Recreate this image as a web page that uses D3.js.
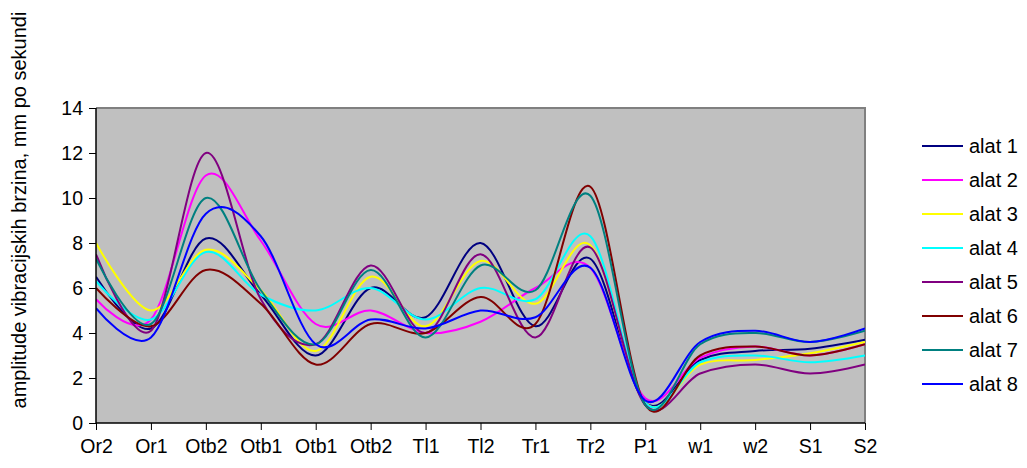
<!DOCTYPE html>
<html><head><meta charset="utf-8">
<script src="https://cdn.jsdelivr.net/npm/d3@7/dist/d3.min.js"></script>
<style>body{margin:0;background:#fff}svg{display:block;font-family:"Liberation Sans",Arial,sans-serif}</style>
</head><body><svg id="c" width="1027" height="468"></svg>
<script>
const categories = ["Or2","Or1","Otb2","Otb1","Otb1","Otb2","Tl1","Tl2","Tr1","Tr2","P1","w1","w2","S1","S2"];
const yTicks = [0,2,4,6,8,10,12,14];
const seriesNames = ["alat 1","alat 2","alat 3","alat 4","alat 5","alat 6","alat 7","alat 8"];
const seriesColors = ["#000080","#FF00FF","#FFFF00","#00FFFF","#800080","#800000","#008080","#0000FF"];
const alat1 = [6.5,4.2,8.2,5.7,3.0,6.0,4.7,8.0,4.3,7.3,0.9,2.8,3.2,3.3,3.7];
const alat2 = [5.5,4.6,11.0,8.1,4.4,5.0,4.0,4.5,6.0,6.9,1.1,2.9,3.4,3.0,3.5];
const alat3 = [8.0,5.0,7.7,5.9,3.2,6.5,4.3,7.2,5.3,7.9,0.9,2.6,2.8,3.1,3.6];
const alat4 = [6.3,4.6,7.6,5.7,5.0,6.0,4.6,6.0,5.5,8.3,0.9,2.7,3.0,2.7,3.0];
const alat5 = [7.5,4.1,12.0,5.5,3.5,7.0,4.0,7.5,3.8,7.8,0.8,2.2,2.6,2.2,2.6];
const alat6 = [6.0,4.3,6.8,5.3,2.6,4.4,4.0,5.6,4.4,10.5,0.8,3.0,3.4,3.0,3.5];
const alat7 = [7.3,4.4,10.0,5.9,3.5,6.8,3.8,7.0,5.9,10.1,0.8,3.5,4.0,3.6,4.1];
const alat8 = [5.1,3.8,9.3,8.3,3.5,4.6,4.2,5.0,4.7,6.9,1.0,3.6,4.1,3.6,4.2];
const seriesValues = [alat1,alat2,alat3,alat4,alat5,alat6,alat7,alat8];

const svg = d3.select("#c");
const L = 96, R = 865, T = 108, B = 423;
const x = d3.scalePoint().domain(d3.range(categories.length)).range([L, R]);
const y = d3.scaleLinear().domain([0,14]).range([B, T]);

svg.append("rect").attr("x",L).attr("y",T).attr("width",R-L).attr("height",B-T).attr("fill","#C0C0C0");
svg.append("path").attr("d",`M${L},${T}H${R}V${B}`).attr("fill","none").attr("stroke","#808080").attr("stroke-width",2);

svg.append("clipPath").attr("id","pc").append("rect").attr("x",L).attr("y",T-5).attr("width",R-L).attr("height",B-T+10);
const line = d3.line().x((d,i)=>x(i)).y(d=>y(d)).curve(d3.curveCardinal.tension(0));
const g = svg.append("g").attr("clip-path","url(#pc)");
seriesValues.forEach((vals,k)=>{
  g.append("path").attr("d",line(vals)).attr("fill","none").attr("stroke",seriesColors[k]).attr("stroke-width",2);
});

const FS = 19.5;
const yAxis = svg.append("g").attr("transform",`translate(${L},0)`)
  .call(d3.axisLeft(y).tickValues(yTicks).tickSize(7).tickPadding(6).tickFormat(d3.format("d")));
yAxis.select(".domain").attr("stroke","#000").attr("stroke-width",1.5).attr("d",`M0,${T}V${B}`);
yAxis.selectAll(".tick line").attr("stroke","#000");
yAxis.selectAll("text").attr("font-size",FS).attr("fill","#000").attr("font-family","Liberation Sans, Arial, sans-serif");

const xAxis = svg.append("g").attr("transform",`translate(0,${B})`)
  .call(d3.axisBottom(x).tickSize(7).tickPadding(9).tickFormat(i=>categories[i]));
xAxis.select(".domain").attr("stroke","#000").attr("stroke-width",1.5).attr("d",`M${L},0H${R}`);
xAxis.selectAll(".tick line").attr("stroke","#000");
xAxis.selectAll("text").attr("font-size",FS).attr("fill","#000").attr("font-family","Liberation Sans, Arial, sans-serif");

svg.append("text").attr("transform","translate(26,210) rotate(-90)").attr("text-anchor","middle")
  .attr("font-size",20).attr("fill","#000").text("amplitude vibracijskih brzina,  mm po sekundi");

const leg = svg.append("g");
seriesNames.forEach((n,k)=>{
  const yy = 146 + k*34;
  leg.append("line").attr("x1",922).attr("x2",963).attr("y1",yy).attr("y2",yy).attr("stroke",seriesColors[k]).attr("stroke-width",2);
  leg.append("text").attr("x",969).attr("y",yy+7).attr("font-size",20).attr("fill","#000").text(n);
});
</script></body></html>
